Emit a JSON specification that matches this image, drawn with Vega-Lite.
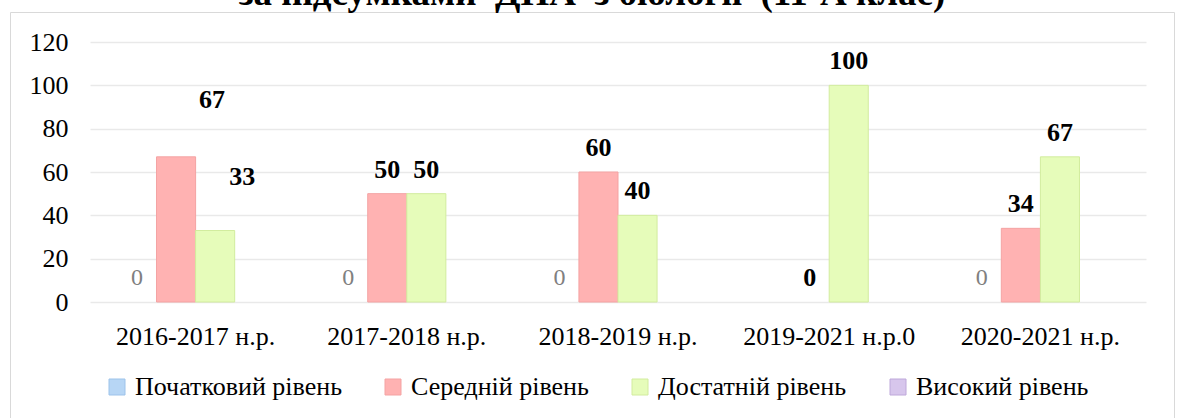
{
  "$schema": "https://vega.github.io/schema/vega-lite/v6.json",
  "autosize": {"type": "none"},
  "padding": {"left": 10, "top": 12, "right": 5, "bottom": 0},
  "width": 1164,
  "height": 406,
  "background": "white",
  "title": {
    "text": "за підсумками\u00a0\u00a0ДПА\u00a0\u00a0з біології\u00a0\u00a0(11-А клас)",
    "font": "Liberation Serif",
    "fontSize": 37,
    "fontWeight": "bold",
    "color": "#000000",
    "anchor": "middle",
    "frame": "group",
    "baseline": "alphabetic",
    "offset": 0,
    "dy": 30
  },
  "data": {
    "values": [
      {"year": "2016-2017 н.р.", "level": "Початковий рівень", "value": 0},
      {"year": "2016-2017 н.р.", "level": "Середній рівень", "value": 67},
      {"year": "2016-2017 н.р.", "level": "Достатній рівень", "value": 33},
      {"year": "2017-2018 н.р.", "level": "Початковий рівень", "value": 0},
      {"year": "2017-2018 н.р.", "level": "Середній рівень", "value": 50},
      {"year": "2017-2018 н.р.", "level": "Достатній рівень", "value": 50},
      {"year": "2018-2019 н.р.", "level": "Початковий рівень", "value": 0},
      {"year": "2018-2019 н.р.", "level": "Середній рівень", "value": 60},
      {"year": "2018-2019 н.р.", "level": "Достатній рівень", "value": 40},
      {"year": "2019-2021 н.р.0", "level": "Середній рівень", "value": 0},
      {"year": "2019-2021 н.р.0", "level": "Достатній рівень", "value": 100},
      {"year": "2020-2021 н.р.", "level": "Початковий рівень", "value": 0},
      {"year": "2020-2021 н.р.", "level": "Середній рівень", "value": 34},
      {"year": "2020-2021 н.р.", "level": "Достатній рівень", "value": 67}
    ]
  },
  "encoding": {
    "x": {
      "field": "year",
      "type": "nominal",
      "sort": null,
      "scale": {"range": [80, 1136], "paddingInner": 0.26, "paddingOuter": 0.13},
      "axis": {
        "title": null,
        "labelAngle": 0,
        "offset": -116,
        "domain": false,
        "ticks": false,
        "grid": false,
        "labelPadding": 42,
        "labelBaseline": "alphabetic",
        "labelFont": "Liberation Serif",
        "labelFontSize": 26,
        "labelColor": "#000000",
        "labelLimit": 400
      }
    },
    "xOffset": {
      "field": "level",
      "type": "nominal",
      "scale": {"domain": ["Початковий рівень", "Середній рівень", "Достатній рівень", "Високий рівень"], "paddingInner": 0, "paddingOuter": 0}
    },
    "y": {
      "field": "value",
      "type": "quantitative",
      "scale": {"domain": [0, 120], "range": [290, 30], "nice": false, "zero": true},
      "axis": {
        "title": null,
        "values": [0, 20, 40, 60, 80, 100, 120],
        "offset": -60,
        "domain": false,
        "ticks": false,
        "labelPadding": 2,
        "labelFont": "Liberation Serif",
        "labelFontSize": 26,
        "labelColor": "#000000",
        "grid": true,
        "gridColor": "#E9E9E9",
        "gridWidth": 1.5
      }
    }
  },
  "layer": [
    {
      "transform": [{"filter": "datum.value > 0"}],
      "mark": {"type": "bar", "strokeWidth": 1},
      "encoding": {
        "fill": {
          "field": "level",
          "type": "nominal",
          "scale": {
            "domain": ["Початковий рівень", "Середній рівень", "Достатній рівень", "Високий рівень"],
            "range": ["#B7D6F5", "#FFB2B2", "#E6FCBA", "#D7C6EC"]
          },
          "legend": {
            "title": null,
            "orient": "none",
            "legendX": 94,
            "legendY": 362,
            "direction": "horizontal",
            "columns": 4,
            "symbolType": "square",
            "symbolSize": 256,
            "symbolStrokeWidth": 1,
            "labelFont": "Liberation Serif",
            "labelFontSize": 26,
            "labelColor": "#000000",
            "labelOffset": 5,
            "labelLimit": 400,
            "columnPadding": 38
          }
        },
        "stroke": {
          "field": "level",
          "type": "nominal",
          "scale": {
            "domain": ["Початковий рівень", "Середній рівень", "Достатній рівень", "Високий рівень"],
            "range": ["#9DC3EA", "#F4A3A3", "#D2EC9E", "#BEA8DA"]
          },
          "legend": {
            "title": null,
            "orient": "none",
            "legendX": 94,
            "legendY": 362,
            "direction": "horizontal",
            "columns": 4,
            "symbolType": "square",
            "symbolSize": 256,
            "symbolStrokeWidth": 1,
            "labelFont": "Liberation Serif",
            "labelFontSize": 26,
            "labelColor": "#000000",
            "labelOffset": 5,
            "labelLimit": 400,
            "columnPadding": 38
          }
        }
      }
    },
    {
      "transform": [{"filter": "datum.level === 'Початковий рівень'"}],
      "mark": {"type": "text", "baseline": "alphabetic", "dy": -17, "font": "Liberation Serif", "fontSize": 24, "color": "#808080"},
      "encoding": {"text": {"field": "value", "type": "quantitative"}}
    },
    {
      "transform": [{"filter": "datum.level !== 'Початковий рівень' && datum.year !== '2016-2017 н.р.'"}],
      "mark": {"type": "text", "baseline": "alphabetic", "dy": -16, "font": "Liberation Serif", "fontSize": 26, "fontWeight": "bold", "color": "#000000"},
      "encoding": {"text": {"field": "value", "type": "quantitative"}}
    },
    {
      "transform": [{"filter": "datum.level === 'Середній рівень' && datum.year === '2016-2017 н.р.'"}],
      "mark": {"type": "text", "baseline": "alphabetic", "dx": 36, "dy": -49, "font": "Liberation Serif", "fontSize": 26, "fontWeight": "bold", "color": "#000000"},
      "encoding": {"text": {"field": "value", "type": "quantitative"}}
    },
    {
      "transform": [{"filter": "datum.level === 'Достатній рівень' && datum.year === '2016-2017 н.р.'"}],
      "mark": {"type": "text", "baseline": "alphabetic", "dx": 27, "dy": -46, "font": "Liberation Serif", "fontSize": 26, "fontWeight": "bold", "color": "#000000"},
      "encoding": {"text": {"field": "value", "type": "quantitative"}}
    }
  ],
  "config": {
    "view": {"stroke": "#D9D9D9", "strokeWidth": 1},
    "font": "Liberation Serif"
  }
}
